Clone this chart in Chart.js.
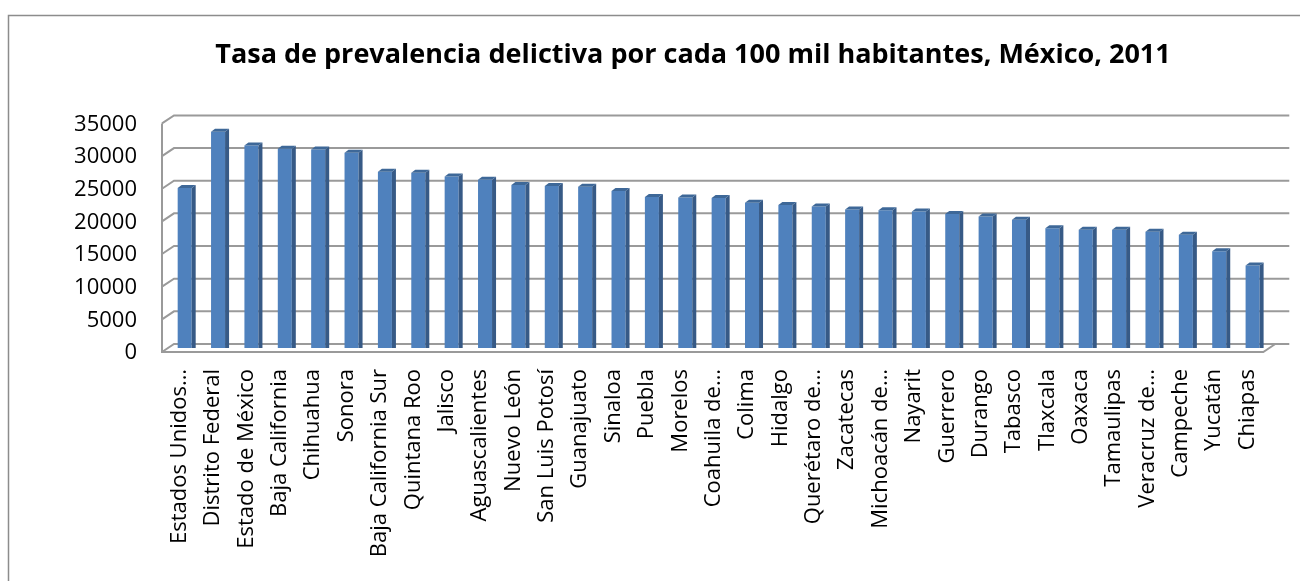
<!DOCTYPE html>
<html>
<head>
<meta charset="utf-8">
<script src="https://cdn.jsdelivr.net/npm/chart.js@4.4.0/dist/chart.umd.min.js"></script>
<style>
  body { margin: 0; background: #fff; }
  #wrap { position: relative; width: 1300px; height: 581px; }
</style>
</head>
<body>
<div id="wrap"><canvas id="Chart"></canvas></div>
<script>
// Categories (labels truncated as in the original)
const estados = [
  'Estados Unidos…', 'Distrito Federal', 'Estado de México', 'Baja California',
  'Chihuahua', 'Sonora', 'Baja California Sur', 'Quintana Roo', 'Jalisco',
  'Aguascalientes', 'Nuevo León', 'San Luis Potosí', 'Guanajuato', 'Sinaloa',
  'Puebla', 'Morelos', 'Coahuila de…', 'Colima', 'Hidalgo', 'Querétaro de…',
  'Zacatecas', 'Michoacán de…', 'Nayarit', 'Guerrero', 'Durango', 'Tabasco',
  'Tlaxcala', 'Oaxaca', 'Tamaulipas', 'Veracruz de…', 'Campeche', 'Yucatán',
  'Chiapas'
];

// Prevalence rate per 100k inhabitants
const tasas = [
  24499, 33100, 31000, 30500,
  30400, 29900, 27000, 26850, 26250,
  25750, 24950, 24800, 24700, 24050,
  23100, 23050, 22950, 22250, 21900, 21650,
  21200, 21100, 20900, 20500, 20150, 19650,
  18350, 18100, 18100, 17800, 17350, 14800,
  12650
];

// Value axis
const yMin = 0;
const yMax = 35000;
const yStep = 5000;

const depthX = 6;
const depthY = 4;

// Outer border + 3D looking walls/floor (Excel style)
const frame3d = {
  id: 'frame3d',
  afterLayout(chart) {
    // title is centred a bit right of the canvas centre in the original
    if (chart.titleBlock) chart.titleBlock.left = 86;
  },
  beforeDraw(chart) {
    const ctx = chart.ctx;
    ctx.save();
    ctx.strokeStyle = '#8c8c8c';
    ctx.lineWidth = 1.5;
    ctx.strokeRect(8.5, 15.5, 1400, 700);
    ctx.restore();
  },
  beforeDatasetsDraw(chart) {
    const { ctx, chartArea: a, scales: { y } } = chart;
    ctx.save();
    ctx.strokeStyle = '#9a9a9a';
    ctx.lineWidth = 2;
    ctx.beginPath();
    for (let v = yMin; v <= yMax; v += yStep) {
      const py = y.getPixelForValue(v);
      ctx.moveTo(a.left - depthX, py + depthY);
      ctx.lineTo(a.left + depthX, py - depthY);
      ctx.lineTo(a.right + 20, py - depthY);
    }
    const top = y.getPixelForValue(yMax);
    const py0 = y.getPixelForValue(yMin);
    ctx.moveTo(a.left - depthX, top + depthY);
    ctx.lineTo(a.left - depthX, py0 + depthY);
    ctx.lineTo(a.right - depthX, py0 + depthY);
    ctx.lineTo(a.right + depthX, py0 - depthY);
    ctx.stroke();
    ctx.restore();
  },
  afterDatasetsDraw(chart) {
    const ctx = chart.ctx;
    const meta = chart.getDatasetMeta(0);
    ctx.save();
    meta.data.forEach(bar => {
      const { x, y, base, width } = bar.getProps(['x', 'y', 'base', 'width'], true);
      const l = x - width / 2;
      const r = x + width / 2;
      // side face
      ctx.fillStyle = '#375a86';
      ctx.beginPath();
      ctx.moveTo(r, y);
      ctx.lineTo(r + 4, y - 3);
      ctx.lineTo(r + 4, base);
      ctx.lineTo(r, base);
      ctx.closePath();
      ctx.fill();
      // top face
      ctx.fillStyle = '#3e6898';
      ctx.beginPath();
      ctx.moveTo(l, y);
      ctx.lineTo(l + 4, y - 3);
      ctx.lineTo(r + 4, y - 3);
      ctx.lineTo(r, y);
      ctx.closePath();
      ctx.fill();
    });
    ctx.restore();
  }
};

const config = {
  type: 'bar',
  data: {
    labels: estados,
    datasets: [{
      label: 'Tasa de prevalencia delictiva',
      data: tasas,
      backgroundColor: '#4f81bd',
      borderWidth: 0,
      barPercentage: 0.42,
      categoryPercentage: 1.0
    }]
  },
  options: {
    responsive: true,
    maintainAspectRatio: false,
    animation: false,
    layout: { padding: 0 },
    plugins: {
      legend: { display: false },
      tooltip: { enabled: false },
      title: {
        display: true,
        text: 'Tasa de prevalencia delictiva por cada 100 mil habitantes, México, 2011',
        color: '#000',
        font: { family: 'Open Sans', weight: 'bold', size: 27 },
        padding: { top: 39, bottom: 48 }
      }
    },
    scales: {
      x: {
        grid: { display: false, drawTicks: false },
        border: { display: false },
        ticks: {
          color: '#000',
          font: { family: 'Open Sans', size: 22 },
          autoSkip: false,
          minRotation: 90,
          maxRotation: 90,
          padding: 21,
          labelOffset: -5
        },
        afterFit(scale) { scale.height = 233; }
      },
      y: {
        min: yMin,
        max: yMax,
        grid: { display: false, drawTicks: false },
        border: { display: false },
        ticks: {
          stepSize: yStep,
          color: '#000',
          font: { family: 'Open Sans', size: 22 },
          padding: 31,
          labelOffset: 5,
          callback: value => String(value)
        },
        afterFit(scale) { scale.width = 168; }
      }
    }
  },
  plugins: [frame3d]
};

const delitosChart = new Chart(document.getElementById('Chart'), config);
</script>
</body>
</html>
